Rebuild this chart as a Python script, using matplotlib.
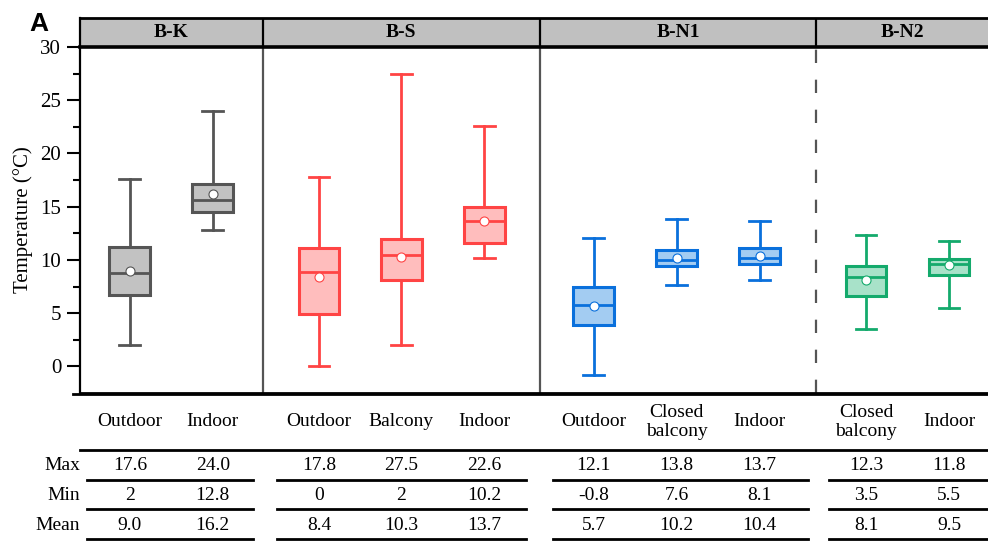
import matplotlib
matplotlib.use("Agg")
import matplotlib.pyplot as plt
import matplotlib.transforms as mtransforms
from matplotlib.lines import Line2D

plt.rcParams['font.family'] = ['Liberation Serif', 'DejaVu Serif']

# ---- data ----
groups = ["B-K", "B-S", "B-N1", "B-N2"]
categories = ["Outdoor", "Indoor",
              "Outdoor", "Balcony", "Indoor",
              "Outdoor", "Closed\nbalcony", "Indoor",
              "Closed\nbalcony", "Indoor"]
group_of = [0, 0, 1, 1, 1, 2, 2, 2, 3, 3]
t_max = [17.6, 24.0, 17.8, 27.5, 22.6, 12.1, 13.8, 13.7, 12.3, 11.8]
t_min = [2, 12.8, 0, 2, 10.2, -0.8, 7.6, 8.1, 3.5, 5.5]
t_mean = [9.0, 16.2, 8.4, 10.3, 13.7, 5.7, 10.2, 10.4, 8.1, 9.5]
t_q1 = [6.7, 14.5, 4.9, 8.1, 11.6, 3.9, 9.4, 9.6, 6.6, 8.6]
t_med = [8.8, 15.6, 8.9, 10.5, 13.7, 5.8, 10.0, 10.2, 8.4, 9.6]
t_q3 = [11.2, 17.1, 11.1, 12.0, 15.0, 7.5, 10.9, 11.1, 9.4, 10.1]
max_txt = ["17.6", "24.0", "17.8", "27.5", "22.6", "12.1", "13.8", "13.7", "12.3", "11.8"]
min_txt = ["2", "12.8", "0", "2", "10.2", "-0.8", "7.6", "8.1", "3.5", "5.5"]
mean_txt = ["9.0", "16.2", "8.4", "10.3", "13.7", "5.7", "10.2", "10.4", "8.1", "9.5"]

# ---- layout ----
positions = [0, 1.0, 2.28, 3.27, 4.27, 5.59, 6.59, 7.59, 8.87, 9.87]
separators = [1.60, 4.94, 8.27]
xlim = (-0.6, 10.34)
seg_spans = [(-0.51, 1.49), (1.77, 4.77), (5.10, 8.17), (8.43, 10.4)]
edge_colors = ["#555555", "#ff4444", "#0a70dc", "#14aa6c"]
fill_colors = ["#c2c2c2", "#ffbdbd", "#a3ccf2", "#a8e2c9"]

W, H = 988, 541
fig = plt.figure(figsize=(W / 100, H / 100), dpi=100)

def fy(py):
    return 1 - py / H

ax = fig.add_axes([80 / W, fy(393), 1 - 80 / W, fy(47) - fy(393)])
hax = fig.add_axes([80 / W, fy(47), 1 - 80 / W, fy(18) - fy(47)])

# ---- boxes ----
for i in range(len(categories)):
    g = group_of[i]
    st = dict(med=t_med[i], q1=t_q1[i], q3=t_q3[i], whislo=t_min[i],
              whishi=t_max[i], mean=t_mean[i], fliers=[])
    ec, fc = edge_colors[g], fill_colors[g]
    ax.bxp([st], positions=[positions[i]], widths=0.49, capwidths=0.25,
           patch_artist=True, showmeans=True, showfliers=False,
           boxprops=dict(facecolor=fc, edgecolor=ec, linewidth=2.2),
           medianprops=dict(color=ec, linewidth=2.0),
           whiskerprops=dict(color=ec, linewidth=2.0),
           capprops=dict(color=ec, linewidth=2.0),
           meanprops=dict(marker='o', markerfacecolor='white',
                          markeredgecolor=ec, markersize=6.5,
                          markeredgewidth=0.8))

for k, s in enumerate(separators):
    ls = (0, (6, 7.5)) if k == 2 else '-'
    ax.plot([s, s], [-2.5, 30], color="#555555", lw=1.6, ls=ls,
            solid_capstyle='butt', zorder=1)

ax.set_xlim(*xlim)
ax.set_ylim(-2.5, 30)
ax.set_xticks([])
ax.set_yticks([0, 5, 10, 15, 20, 25, 30])
ax.set_yticks([2.5, 7.5, 12.5, 17.5, 22.5, 27.5], minor=True)
ax.tick_params(axis='y', which='major', length=9.5, width=1.5,
               labelsize=15, pad=4)
ax.tick_params(axis='y', which='minor', length=5, width=1.5)
ax.spines['right'].set_visible(False)
ax.spines['top'].set_visible(False)
ax.spines['left'].set_linewidth(1.6)
ax.spines['bottom'].set_linewidth(2.0)
ax.set_ylabel("Temperature (°C)", fontsize=15, labelpad=5)

# ---- header strip ----
hax.set_facecolor("#c0c0c0")
hax.set_xlim(*xlim)
hax.set_ylim(0, 1)
hax.set_xticks([])
hax.set_yticks([])
hax.spines['right'].set_visible(False)
hax.spines['top'].set_linewidth(2.0)
hax.spines['left'].set_linewidth(1.6)
hax.spines['bottom'].set_linewidth(2.6)
bounds = [xlim[0]] + separators + [xlim[1]]
for s in separators:
    hax.plot([s, s], [0, 1], color="black", lw=1.6)
for g, name in enumerate(groups):
    hax.text((bounds[g] + bounds[g + 1]) / 2, 0.5, name, ha='center',
             va='center', fontsize=14, fontweight='bold')

fig.text(39 / W, fy(24), "A", ha='center', va='center', fontsize=19,
         fontweight='bold', family=['Liberation Sans', 'DejaVu Sans'])

# ---- table below the axes ----
tr = mtransforms.blended_transform_factory(ax.transData, fig.transFigure)
fig.add_artist(Line2D([73 / W, 1], [fy(393.5), fy(393.5)], color='black',
                      lw=2.0, transform=fig.transFigure))
fig.add_artist(Line2D([80 / W, 1], [fy(450), fy(450)], color='black',
                      lw=2.0, transform=fig.transFigure))
for i, cat in enumerate(categories):
    x = positions[i]
    fig.text(x, fy(422), cat, transform=tr, ha='center', va='center',
             fontsize=14, linespacing=1.1)
    fig.text(x, fy(466), max_txt[i], transform=tr, ha='center',
             va='center', fontsize=14)
    fig.text(x, fy(495), min_txt[i], transform=tr, ha='center',
             va='center', fontsize=14)
    fig.text(x, fy(525), mean_txt[i], transform=tr, ha='center',
             va='center', fontsize=14)
for label, py in zip(["Max", "Min", "Mean"], [466, 495, 525]):
    fig.text(80 / W, fy(py), label, ha='right', va='center', fontsize=14)
for ly in [479.5, 509, 539]:
    for a, b in seg_spans:
        fig.add_artist(Line2D([a, b], [fy(ly), fy(ly)], color='black',
                              lw=2.0, transform=tr))

fig.savefig("out.png", dpi=100)
